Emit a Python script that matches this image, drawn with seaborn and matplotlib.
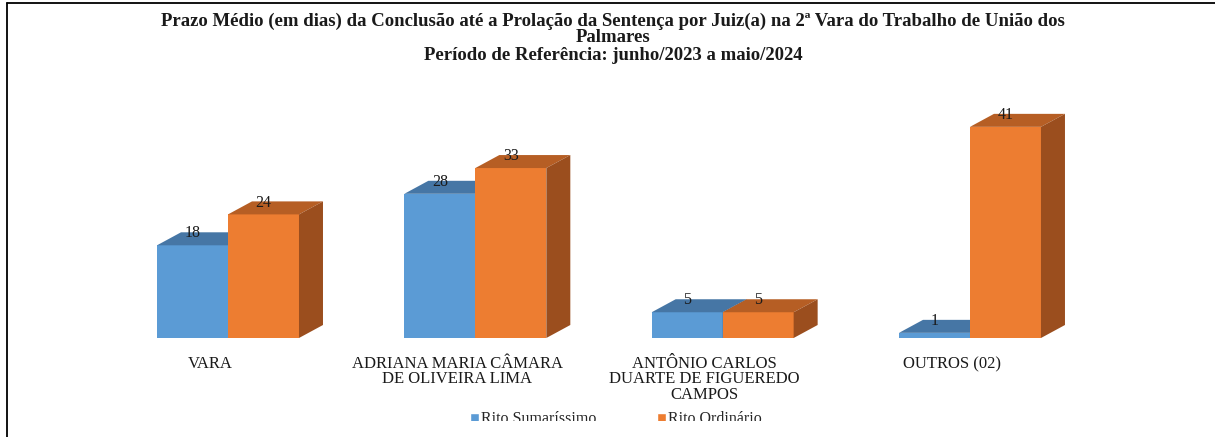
import matplotlib
matplotlib.use("Agg")
import matplotlib.pyplot as plt
import seaborn as sns
import pandas as pd
from matplotlib.patches import Polygon, Rectangle, Patch
from matplotlib.lines import Line2D
from matplotlib.transforms import ScaledTranslation

# ---- data ----
categories = ["VARA",
              "ADRIANA MARIA CÂMARA\nDE OLIVEIRA LIMA",
              "ANTÔNIO CARLOS\nDUARTE DE FIGUEREDO\nCAMPOS",
              "OUTROS (02)"]
series_names = ["Rito Sumaríssimo", "Rito Ordinário"]
sumarissimo = [18, 28, 5, 1]
ordinario = [24, 33, 5, 41]
title_lines = ["Prazo Médio (em dias) da Conclusão até a Prolação da Sentença por Juiz(a) na 2ª Vara do Trabalho de União dos",
               "Palmares",
               "Período de Referência: junho/2023 a maio/2024"]

# ---- styling ----
front = ["#5B9BD5", "#ED7D31"]
top = ["#4676A5", "#B65E24"]
side = ["#41709C", "#9B4E1E"]
SERIF = "Liberation Serif"

sns.set_theme(style="white")
plt.rcParams["font.family"] = [SERIF, "DejaVu Serif"]

W, H = 1215, 437
fig = plt.figure(figsize=(W / 100, H / 100), dpi=100)
fig.patch.set_facecolor("white")

base_px, top_px = 338, 80
ax = fig.add_axes([0, 1 - base_px / H, 1, (base_px - top_px) / H])
ax.set_facecolor("none")

df = pd.DataFrame({
    "cat": categories * 2,
    "valor": sumarissimo + ordinario,
    "rito": [series_names[0]] * 4 + [series_names[1]] * 4,
})

sns.barplot(data=df, x="cat", y="valor", hue="rito", hue_order=series_names,
            order=categories, palette=front, saturation=1, width=0.574,
            linewidth=0, edgecolor="none", legend=False, ax=ax, errorbar=None)

spacing = 247.33
ax.set_xlim(-228 / spacing, (W - 228) / spacing)
ax.set_ylim(0, (base_px - top_px) / 5.15)
for s in ax.spines.values():
    s.set_visible(False)
ax.set_yticks([])
ax.set_xlabel("")
ax.set_ylabel("")

fig.canvas.draw()
inv = ax.transData.inverted()
p0 = inv.transform((0, 0))
p1 = inv.transform((24, 13))
ddx, ddy = p1[0] - p0[0], p1[1] - p0[1]

bars = [p for p in ax.patches if isinstance(p, Rectangle)]
nb = len(categories)
for i, bar in enumerate(bars):
    h = i // nb
    z = 2 + h * 2
    bar.set_zorder(z)
    x0 = bar.get_x()
    x1 = x0 + bar.get_width()
    y1 = bar.get_height()
    ax.add_patch(Polygon([(x0, y1), (x1, y1), (x1 + ddx, y1 + ddy), (x0 + ddx, y1 + ddy)],
                         closed=True, facecolor=top[h], edgecolor="none", zorder=z))
    ax.add_patch(Polygon([(x1, 0), (x1 + ddx, ddy), (x1 + ddx, y1 + ddy), (x1, y1)],
                         closed=True, facecolor=side[h], edgecolor="none", zorder=z))
    ax.annotate(f"{int(y1)}", ((x0 + x1) / 2, y1), xytext=(0, 8.5),
                textcoords="offset points", ha="center", va="center",
                fontsize=11.5, family=SERIF, color="#1a1a1a", zorder=10)

ax.set_xticks(range(nb))
ax.set_xticklabels(categories, fontsize=12, family=SERIF, linespacing=0.95, color="#1a1a1a")
ax.tick_params(axis="x", length=0, pad=13)
shift = ScaledTranslation(-18 / 100, 0, fig.dpi_scale_trans)
for lab in ax.get_xticklabels():
    lab.set_transform(lab.get_transform() + shift)

# title
ys = [21, 38, 56]
for t, y in zip(title_lines, ys):
    fig.text(613 / W, 1 - y / H, t, ha="center", va="center", fontsize=13.5,
             fontweight="bold", family=SERIF, color="#1a1a1a")

# legend
handles = [Patch(facecolor=front[0]), Patch(facecolor=front[1])]
fig.legend(handles, series_names, loc="center", bbox_to_anchor=(616 / W, 1 - 419 / H),
           ncol=2, frameon=False, prop={"family": SERIF, "size": 11.5},
           handlelength=0.55, handleheight=0.55, handletextpad=0.15, columnspacing=3.8)

# clipped bottom strip (as in reference)
fig.patches.append(Rectangle((0, 0), 1, 1 - 421 / H, transform=fig.transFigure,
                             facecolor="white", edgecolor="none", zorder=50))
# border lines
fig.lines.append(Line2D([6.5 / W, 1], [1 - 3 / H, 1 - 3 / H], transform=fig.transFigure,
                        color="black", lw=1.3, zorder=60))
fig.lines.append(Line2D([6.5 / W, 6.5 / W], [0, 1 - 3 / H], transform=fig.transFigure,
                        color="black", lw=1.3, zorder=60))

fig.savefig("out.png", dpi=100, facecolor="white")
